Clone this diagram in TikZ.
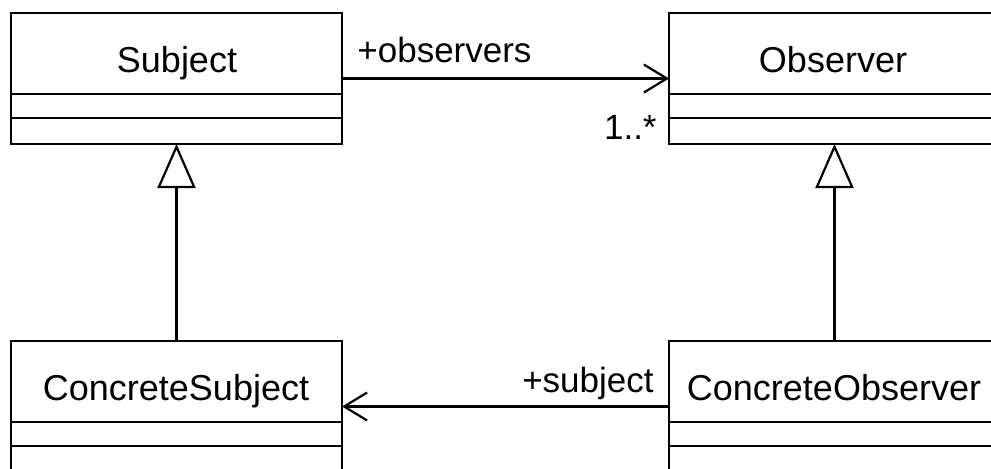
\documentclass[tikz,border=0pt]{standalone}
\usepackage{fontspec}
\setmainfont{Liberation Sans}
\usetikzlibrary{arrows.meta}
\tikzset{
  cls/.style={draw, line width=1.1pt, fill=white, rectangle, inner sep=0pt, outer sep=0pt,
    minimum width=165.5pt, minimum height=65.5pt},
  clsname/.style={anchor=base, inner sep=0pt, font=\fontsize{18}{20}\selectfont},
  lbl/.style={inner sep=0pt, font=\fontsize{17.5}{20}\selectfont},
  divider/.style={line width=1.1pt},
  assoc/.style={line width=1.1pt, -{Straight Barb[length=11.5pt, width=14pt, line width=1.1pt]}},
  inherit/.style={line width=1.1pt, -{Triangle[open, length=22pt, width=19pt, line width=1.1pt, fill=white]}}
}
\begin{document}
\begin{tikzpicture}[x=0.5pt, y=-0.5pt]
\useasboundingbox (0,0) rectangle (991,468);
\clip (0,0) rectangle (991,468);
\fill[white] (0,0) rectangle (991,468);

\node[cls] (subj) at (176.5,78.5) {};
\node[cls] (obs) at (834.5,78.5) {};
\node[cls] (csubj) at (176.5,406.5) {};
\node[cls] (cobs) at (834.5,406.5) {};

\node[clsname] (subjname) at (177,72) {Subject};
\node[clsname] (obsname) at (833,72) {Observer};
\node[clsname] (csubjname) at (176,400) {ConcreteSubject};
\node[clsname] (cobsname) at (834,400) {ConcreteObserver};

\foreach \n in {subj,obs,csubj,cobs}{
  \draw[divider] ([yshift=25pt]\n.south west) -- ([yshift=25pt]\n.south east);
  \draw[divider] ([yshift=13pt]\n.south west) -- ([yshift=13pt]\n.south east);
}

\draw[assoc] (subj.east) -- (obs.west);
\draw[assoc] (cobs.west) -- (csubj.east);
\draw[inherit] (csubj.north) -- (subj.south);
\draw[inherit] (cobs.north) -- (obs.south);

\node[lbl, anchor=base west] (lobs) at (357,62) {+observers};
\node[lbl, anchor=base east] (lmult) at (657,139) {1..*};
\node[lbl, anchor=base east] (lsubj) at (654,392) {+subject};
\end{tikzpicture}
\end{document}
